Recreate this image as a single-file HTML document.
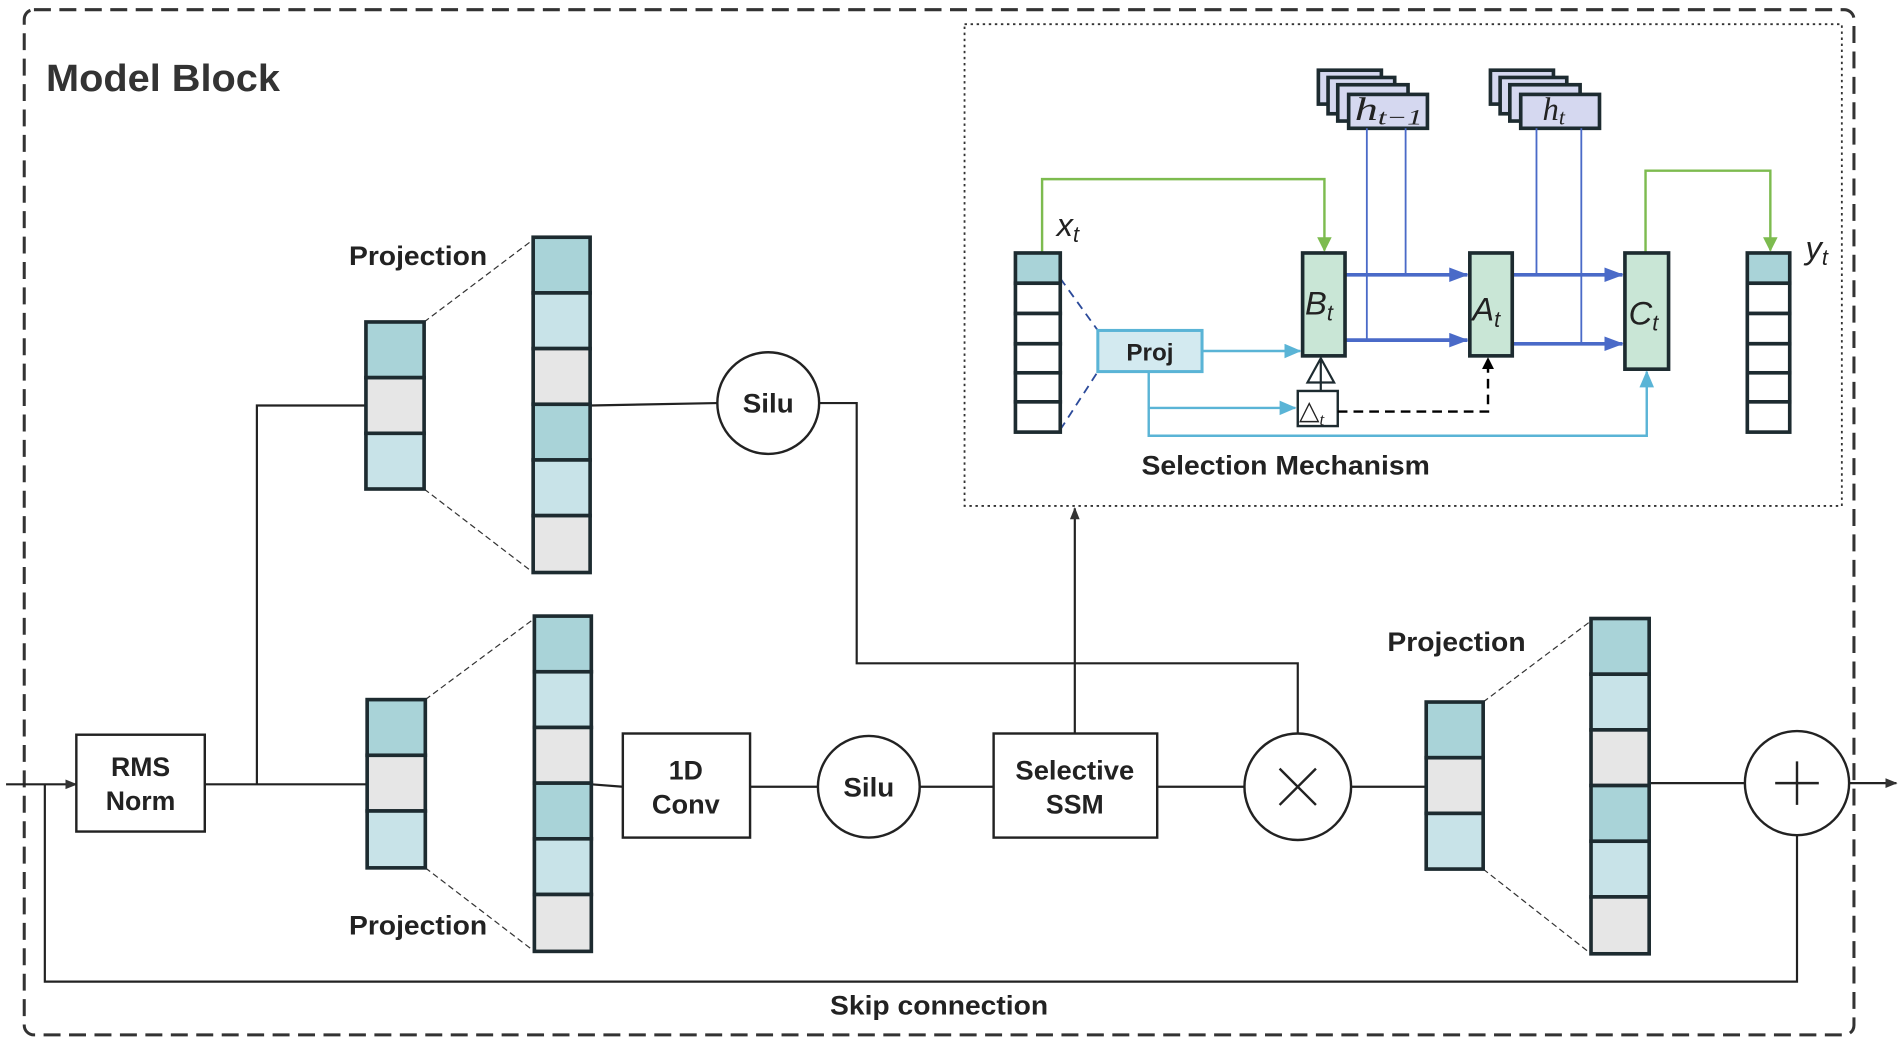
<!DOCTYPE html>
<html><head><meta charset="utf-8"><style>
html,body{margin:0;padding:0;background:#fff;}
svg{display:block;}
text{font-family:"Liberation Sans","DejaVu Sans",sans-serif;}
.m{font-family:"Liberation Serif",serif;font-style:italic;}
</style></head><body>
<svg width="1900" height="1047" viewBox="0 0 1568 865" preserveAspectRatio="none" xmlns="http://www.w3.org/2000/svg">
<defs>
<marker id="ak" markerWidth="10" markerHeight="10" refX="9" refY="5" orient="auto" markerUnits="userSpaceOnUse"><path d="M0,1 L10,5 L0,9z" fill="#333"/></marker>
<marker id="ag" markerWidth="12" markerHeight="14" refX="11" refY="6" orient="auto" markerUnits="userSpaceOnUse"><path d="M0,0 L12,6 L0,12z" fill="#7dbb4f"/></marker>
<marker id="ab" markerWidth="16" markerHeight="14" refX="15" refY="6" orient="auto" markerUnits="userSpaceOnUse"><path d="M0,0 L16,6 L0,12z" fill="#4a6ac8"/></marker>
<marker id="al" markerWidth="14" markerHeight="14" refX="13" refY="6" orient="auto" markerUnits="userSpaceOnUse"><path d="M0,0 L14,6 L0,12z" fill="#5ab4d6"/></marker>
<marker id="ad" markerWidth="10" markerHeight="12" refX="9" refY="5" orient="auto" markerUnits="userSpaceOnUse"><path d="M0,0 L10,5 L0,10z" fill="#000"/></marker>
</defs>
<rect x="20" y="8" width="1510" height="847" rx="8" fill="none" stroke="#333" stroke-width="2.5" stroke-dasharray="14,7"/>
<text x="38" y="75" font-size="31" font-weight="bold" fill="#333" textLength="193" lengthAdjust="spacingAndGlyphs">Model Block</text>
<rect x="796" y="20" width="724" height="398" fill="none" stroke="#333" stroke-width="1.5" stroke-dasharray="2,3"/>

<g stroke="#222" stroke-width="1.8" fill="none">
<path d="M5,648 H63" marker-end="url(#ak)"/>
<path d="M37,648 V811 H1483 V690"/>
<path d="M169,648 H303 M212,648 V335 H302"/>
<path d="M487,335 L592,333 M676,333 H707 V548 H1071 V606"/>
<path d="M488,648 L514,650 M619,650 H675 M759,650 H820 M955,650 H1027 M1115,650 H1177 M1361,647 H1440"/>
<path d="M887,606 V420" marker-end="url(#ak)"/>
<path d="M1526,647 H1565" marker-end="url(#ak)"/>
</g>
<g stroke="#333" stroke-width="1" stroke-dasharray="5,3" fill="none">
<path d="M350,266 L440,198 M350,404 L440,473 M351,578 L441,511 M351,717 L441,786 M1224,580 L1313,513 M1224,718 L1313,788"/>
</g>
<g stroke="#1d2b30" stroke-width="3">
<rect x="302" y="266" width="48" height="46" fill="#a9d3d8"/><rect x="302" y="312" width="48" height="46" fill="#e6e6e6"/><rect x="302" y="358" width="48" height="46" fill="#c8e3e8"/>
<rect x="440" y="196" width="47" height="46" fill="#a9d3d8"/><rect x="440" y="242" width="47" height="46" fill="#c8e3e8"/><rect x="440" y="288" width="47" height="46" fill="#e6e6e6"/><rect x="440" y="334" width="47" height="46" fill="#a9d3d8"/><rect x="440" y="380" width="47" height="46" fill="#c8e3e8"/><rect x="440" y="426" width="47" height="47" fill="#e6e6e6"/>
<rect x="303" y="578" width="48" height="46" fill="#a9d3d8"/><rect x="303" y="624" width="48" height="46" fill="#e6e6e6"/><rect x="303" y="670" width="48" height="47" fill="#c8e3e8"/>
<rect x="441" y="509" width="47" height="46" fill="#a9d3d8"/><rect x="441" y="555" width="47" height="46" fill="#c8e3e8"/><rect x="441" y="601" width="47" height="46" fill="#e6e6e6"/><rect x="441" y="647" width="47" height="46" fill="#a9d3d8"/><rect x="441" y="693" width="47" height="46" fill="#c8e3e8"/><rect x="441" y="739" width="47" height="47" fill="#e6e6e6"/>
<rect x="1177" y="580" width="47" height="46" fill="#a9d3d8"/><rect x="1177" y="626" width="47" height="46" fill="#e6e6e6"/><rect x="1177" y="672" width="47" height="46" fill="#c8e3e8"/>
<rect x="1313" y="511" width="48" height="46" fill="#a9d3d8"/><rect x="1313" y="557" width="48" height="46" fill="#c8e3e8"/><rect x="1313" y="603" width="48" height="46" fill="#e6e6e6"/><rect x="1313" y="649" width="48" height="46" fill="#a9d3d8"/><rect x="1313" y="695" width="48" height="46" fill="#c8e3e8"/><rect x="1313" y="741" width="48" height="47" fill="#e6e6e6"/>
</g>
<g font-size="22" font-weight="bold" fill="#222">
<text x="288" y="219" textLength="114" lengthAdjust="spacingAndGlyphs">Projection</text><text x="288" y="772" textLength="114" lengthAdjust="spacingAndGlyphs">Projection</text><text x="1145" y="538" textLength="114" lengthAdjust="spacingAndGlyphs">Projection</text>
<text x="685" y="838" textLength="180" lengthAdjust="spacingAndGlyphs">Skip connection</text>
</g>
<g stroke="#222" stroke-width="2" fill="#fff">
<rect x="63" y="607" width="106" height="80"/><rect x="514" y="606" width="105" height="86"/><rect x="820" y="606" width="135" height="86"/>
<circle cx="634" cy="333" r="42"/><circle cx="717" cy="650" r="42"/><circle cx="1071" cy="650" r="44"/><circle cx="1483" cy="647" r="43"/>
</g>
<g stroke="#222" stroke-width="2"><path d="M1056,635 L1086,665 M1086,635 L1056,665 M1483,629 V665 M1465,647 H1501"/></g>
<g font-size="22" font-weight="bold" fill="#222" text-anchor="middle">
<text x="116" y="641">RMS</text><text x="116" y="669">Norm</text>
<text x="566" y="644">1D</text><text x="566" y="672" textLength="56" lengthAdjust="spacingAndGlyphs">Conv</text>
<text x="887" y="644" textLength="98" lengthAdjust="spacingAndGlyphs">Selective</text><text x="887" y="672">SSM</text>
<text x="634" y="341" textLength="42" lengthAdjust="spacingAndGlyphs">Silu</text><text x="717" y="658" textLength="42" lengthAdjust="spacingAndGlyphs">Silu</text>
</g>

<g stroke="#7dbb4f" stroke-width="2" fill="none">
<path d="M860,209 V148 H1093 V207" marker-end="url(#ag)"/>
<path d="M1358,209 V141 H1461 V207" marker-end="url(#ag)"/>
</g>
<g stroke="#1d2b30" stroke-width="3" fill="#fff">
<rect x="1088" y="58" width="52" height="28" fill="#d5d8f0"/><rect x="1096" y="64" width="55" height="30" fill="#d5d8f0"/><rect x="1104" y="70" width="58" height="30" fill="#d5d8f0"/><rect x="1113" y="78" width="65" height="28" fill="#d5d8f0"/>
<rect x="1230" y="58" width="52" height="28" fill="#d5d8f0"/><rect x="1238" y="64" width="55" height="30" fill="#d5d8f0"/><rect x="1246" y="70" width="58" height="30" fill="#d5d8f0"/><rect x="1255" y="78" width="65" height="28" fill="#d5d8f0"/>
</g>
<text x="1118" y="99" class="m" font-size="27" fill="#222" textLength="56" lengthAdjust="spacingAndGlyphs">h<tspan font-size="18" dy="4">t−1</tspan></text>
<text x="1273" y="99" class="m" font-size="27" fill="#222">h<tspan font-size="18" dy="4">t</tspan></text>
<g stroke="#4a6ac8" stroke-width="1.5" fill="none">
<path d="M1128,106 V281 M1160,106 V227 M1268,106 V227 M1305,106 V284"/>
</g>
<g stroke="#4a6ac8" stroke-width="3" fill="none">
<path d="M1110,227 H1211" marker-end="url(#ab)"/><path d="M1110,281 H1211" marker-end="url(#ab)"/>
<path d="M1248,227 H1339" marker-end="url(#ab)"/><path d="M1248,284 H1339" marker-end="url(#ab)"/>
</g>
<g stroke="#2b4a9a" stroke-width="1.5" stroke-dasharray="7,5" fill="none"><path d="M875,230 L906,273 M875,355 L906,307"/></g>
<g stroke="#5ab4d6" stroke-width="2" fill="none">
<path d="M992,290 H1073" marker-end="url(#al)"/>
<path d="M948,307 V337 H1069" marker-end="url(#al)"/>
<path d="M948,337 V360 H1359 V307" marker-end="url(#al)"/>
</g>
<rect x="906" y="273" width="86" height="34" fill="#d3eaf0" stroke="#5ab4d6" stroke-width="2.5"/>
<text x="949" y="298" text-anchor="middle" font-size="20" font-weight="bold" fill="#222">Proj</text>
<g stroke="#1d2b30" stroke-width="3">
<rect x="838" y="209" width="37" height="25" fill="#a9d3d8"/><rect x="838" y="234" width="37" height="25" fill="#fff"/><rect x="838" y="259" width="37" height="25" fill="#fff"/><rect x="838" y="284" width="37" height="24" fill="#fff"/><rect x="838" y="308" width="37" height="24" fill="#fff"/><rect x="838" y="332" width="37" height="25" fill="#fff"/>
<rect x="1442" y="209" width="35" height="25" fill="#a9d3d8"/><rect x="1442" y="234" width="35" height="25" fill="#fff"/><rect x="1442" y="259" width="35" height="25" fill="#fff"/><rect x="1442" y="284" width="35" height="24" fill="#fff"/><rect x="1442" y="308" width="35" height="24" fill="#fff"/><rect x="1442" y="332" width="35" height="25" fill="#fff"/>
<rect x="1075" y="209" width="35" height="85" fill="#c9e6d6"/><rect x="1213" y="209" width="35" height="85" fill="#c9e6d6"/><rect x="1341" y="209" width="36" height="96" fill="#c9e6d6"/>
</g>
<rect x="1071" y="323" width="33" height="29" fill="#fff" stroke="#1d2b30" stroke-width="2"/>
<path d="M1090,323 V296 M1079,316 L1090,296 L1101,316 Z" stroke="#1d2b30" stroke-width="1.8" fill="#fff"/>
<text x="1072" y="346" font-size="22" fill="#222">△<tspan class="m" font-size="14" dy="5">t</tspan></text>
<path d="M1104,340 H1228 V296" stroke="#000" stroke-width="2" stroke-dasharray="8,5" fill="none" marker-end="url(#ad)"/>
<g class="m" font-size="27" fill="#222">
<text x="1077" y="260">B<tspan font-size="18" dy="5">t</tspan></text>
<text x="1215" y="265">A<tspan font-size="18" dy="5">t</tspan></text>
<text x="1344" y="268">C<tspan font-size="18" dy="5">t</tspan></text>
<text x="872" y="195">x<tspan font-size="18" dy="5">t</tspan></text>
<text x="1490" y="214">y<tspan font-size="18" dy="5">t</tspan></text>
</g>
<text x="942" y="392" font-size="22" font-weight="bold" fill="#222" textLength="238" lengthAdjust="spacingAndGlyphs">Selection Mechanism</text>
</svg>
</body></html>
